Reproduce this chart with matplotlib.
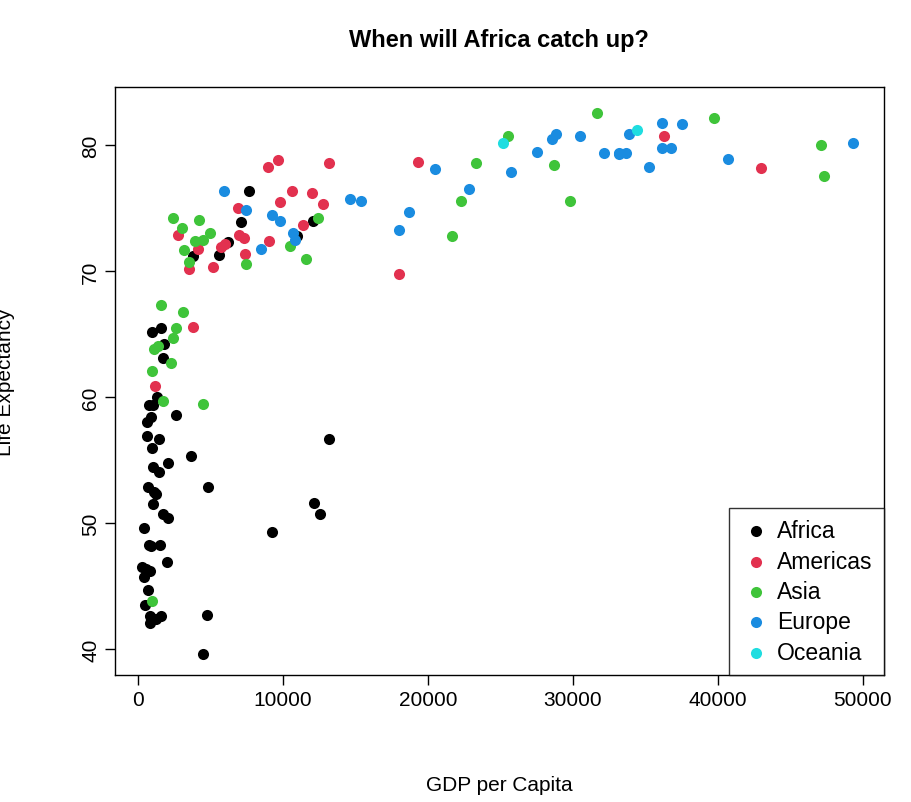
import matplotlib.pyplot as plt
import numpy as np

# gapminder 2007
africa_gdp = [6223, 4797, 1441, 12570, 1217, 430, 2042, 706, 1704, 986, 278, 3633, 1545, 2082, 5581,
              12154, 641, 691, 13206, 753, 1327, 943, 579, 1463, 1569, 415, 12057, 1045, 759, 1042,
              1803, 10957, 3820, 824, 4811, 620, 2014, 7670, 863, 1598, 1712, 863, 926, 9270, 2602,
              4513, 1107, 883, 7093, 1056, 1271, 470]
africa_life = [72.3, 42.7, 56.7, 50.7, 52.3, 49.6, 50.4, 44.7, 50.7, 65.2, 46.5, 55.3, 48.3, 54.8, 71.3,
               51.6, 58.0, 52.9, 56.7, 59.4, 60.0, 56.0, 46.4, 54.1, 42.6, 45.7, 74.0, 59.4, 48.3, 54.5,
               64.2, 72.8, 71.2, 42.1, 52.9, 56.9, 46.9, 76.4, 46.2, 65.5, 63.1, 42.6, 48.2, 49.3, 58.6,
               39.6, 52.5, 58.4, 73.9, 51.5, 42.4, 43.5]
americas_gdp = [12779, 3822, 9066, 36319, 13172, 7007, 9645, 8948, 6025, 6873, 5728, 5186, 1202, 3548,
                7321, 11978, 2749, 9809, 4173, 7409, 19329, 18009, 42952, 10611, 11416]
americas_life = [75.3, 65.6, 72.4, 80.7, 78.6, 72.9, 78.8, 78.3, 72.2, 75.0, 71.9, 70.3, 60.9, 70.2,
                 72.6, 76.2, 72.9, 75.5, 71.8, 71.4, 78.7, 69.8, 78.2, 76.4, 73.7]
asia_gdp = [975, 29796, 1391, 1714, 4959, 39725, 2452, 3541, 11606, 4471, 25523, 31656, 4519, 1593,
            23348, 47307, 10461, 12452, 3096, 944, 1091, 22316, 2606, 3190, 21655, 47143, 3970, 4185,
            28718, 7458, 2442, 3025, 2281]
asia_life = [43.8, 75.6, 64.1, 59.7, 73.0, 82.2, 64.7, 70.7, 71.0, 59.5, 80.7, 82.6, 72.5, 67.3,
             78.6, 77.6, 72.0, 74.2, 66.8, 62.1, 63.8, 75.6, 65.5, 71.7, 72.8, 80.0, 72.4, 74.1,
             78.4, 70.6, 74.2, 73.4, 62.7]
europe_gdp = [5937, 36126, 33693, 7446, 10681, 14619, 22833, 35278, 33207, 30470, 32170, 27538, 18009,
              36181, 40676, 28570, 9254, 36798, 49357, 15390, 20510, 10808, 9787, 18678, 25768, 28821,
              33860, 37506, 8458, 33203]
europe_life = [76.4, 79.8, 79.4, 74.9, 73.0, 75.7, 76.5, 78.3, 79.3, 80.7, 79.4, 79.5, 73.3,
               81.8, 78.9, 80.5, 74.5, 79.8, 80.2, 75.6, 78.1, 72.5, 74.0, 74.7, 77.9, 80.9,
               80.9, 81.7, 71.8, 79.4]
oceania_gdp = [34435, 25185]
oceania_life = [81.2, 80.2]

continents = ["Africa", "Americas", "Asia", "Europe", "Oceania"]
colors = ["black", "#E2314F", "#3FC43A", "#1A8CE0", "#1FDDE0"]
gdp = [africa_gdp, americas_gdp, asia_gdp, europe_gdp, oceania_gdp]
life = [africa_life, americas_life, asia_life, europe_life, oceania_life]

plt.rcParams['font.family'] = ['Liberation Sans', 'DejaVu Sans']
fig = plt.figure(figsize=(9.12, 8.03), dpi=100)
ax = fig.add_axes([0.126, 0.158, 0.843, 0.732])

for name, c, x, y in zip(continents, colors, gdp, life):
    ax.scatter(x, y, s=64, color=c, label=name, linewidths=0, zorder=3)

ax.set_xlim(-1586, 51448)
ax.set_ylim(37.94, 84.6)
ax.set_xticks(np.arange(0, 50001, 10000))
ax.set_yticks(np.arange(40, 81, 10))
ax.tick_params(labelsize=15, length=7, width=1)
for lbl in ax.get_yticklabels():
    lbl.set_rotation(90)
    lbl.set_va("center")
for s in ax.spines.values():
    s.set_linewidth(1)

ax.set_title("When will Africa catch up?", fontsize=17, fontweight="bold", pad=30)
ax.set_xlabel("GDP per Capita", fontsize=15, labelpad=48)
ax.set_ylabel("Life Expectancy", fontsize=15, labelpad=48)

leg = ax.legend(loc="lower right", fontsize=16.5, fancybox=False, edgecolor="black",
                borderaxespad=0, handletextpad=0.2, handlelength=1.4, labelspacing=0.32,
                borderpad=0.5, scatterpoints=1)
leg.get_frame().set_linewidth(1)

fig.savefig("out.png", dpi=100)
